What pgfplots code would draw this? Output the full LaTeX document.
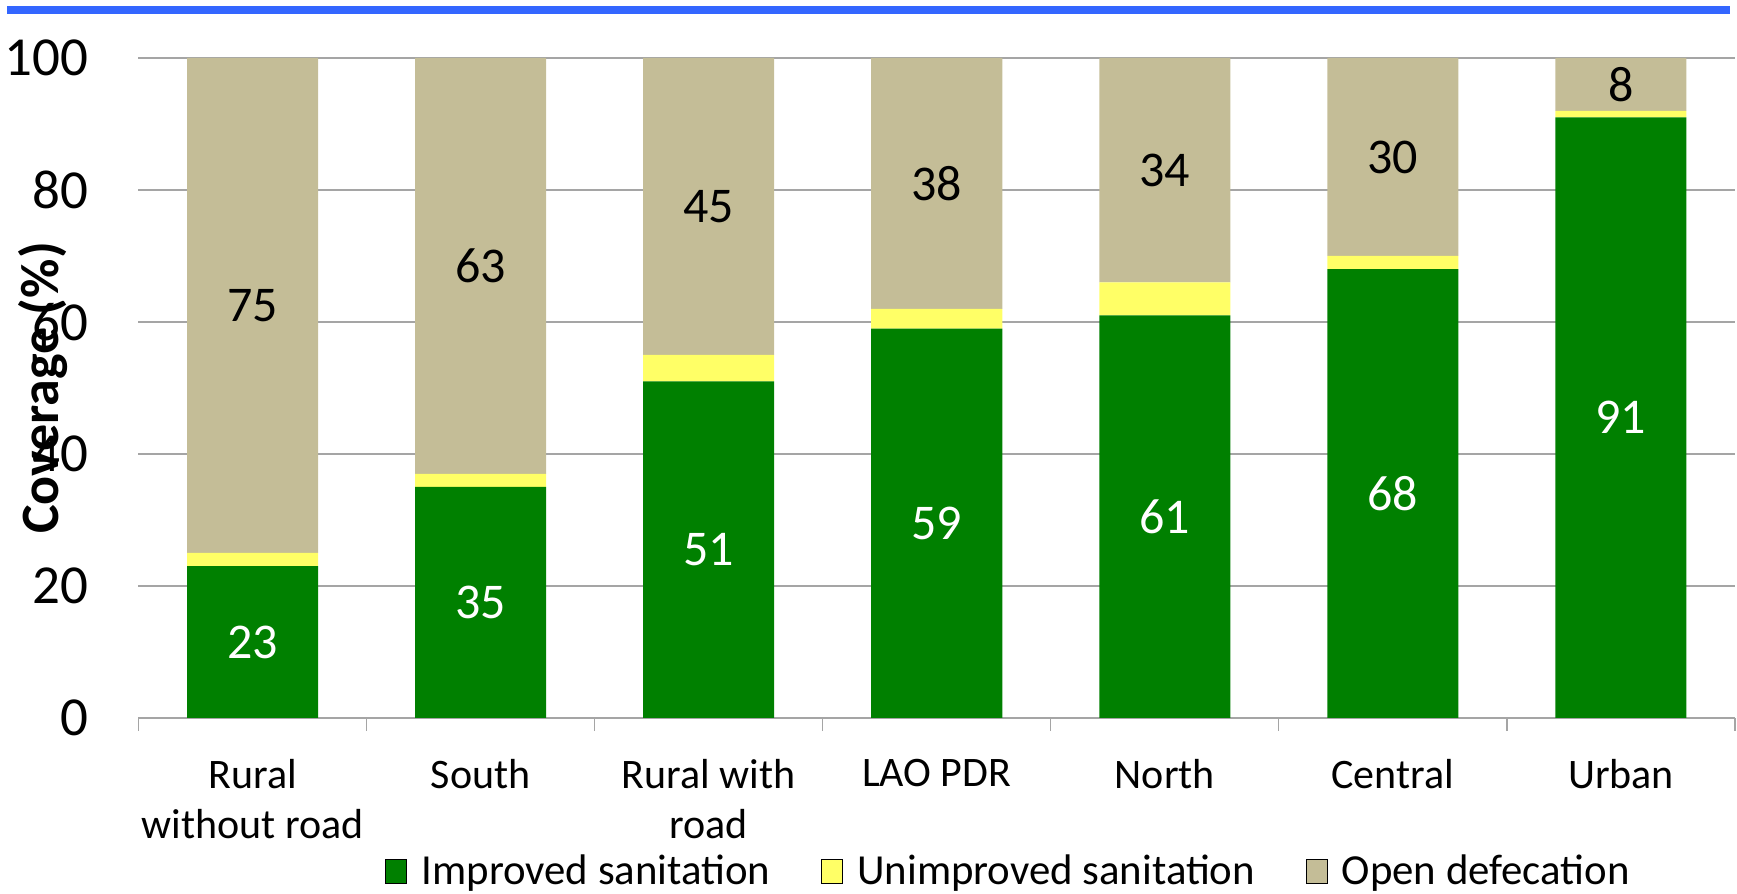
\documentclass[border=0pt]{standalone}
\usepackage{pgfplots}
\pgfplotsset{compat=1.18}
\usepackage{pgfplotstable}
\usepackage{fontspec}
\setmainfont{Carlito}

\definecolor{improved}{RGB}{0,128,0}
\definecolor{unimproved}{RGB}{255,255,102}
\definecolor{opendef}{RGB}{196,189,151}
\definecolor{topbar}{RGB}{51,102,255}
\definecolor{gridgray}{RGB}{165,165,165}

% Sanitation coverage (%) by area
\pgfplotstableread{
x imp unimp open
0 23 2 75
1 35 2 63
2 51 4 45
3 59 3 38
4 61 5 34
5 68 2 30
6 91 1 8
}\sanitation

% value label inside its own stacked segment
\pgfplotsset{
  mid label/.style={
    point meta=explicit symbolic,
    nodes near coords={\pgfplotspointmeta},
    every node near coord/.append style={
      anchor=center, inner sep=0pt,
      font=\fontsize{25}{30}\selectfont, text=#1}
  }
}

\begin{document}
\begin{tikzpicture}
\useasboundingbox (-69.25pt,-88pt) rectangle (799.25pt,359pt);
\fill[topbar] (-65.75pt,352pt) rectangle (795.75pt,356pt);
\begin{axis}[
  scale only axis, width=798.25pt, height=330pt,
  ybar stacked, bar width=65.5pt,
  xmin=-0.5, xmax=6.5, ymin=0, ymax=100,
  xtick={0,...,6},
  xticklabels={{Rural\\without road},South,{Rural with\\road},LAO PDR,North,Central,Urban},
  minor xtick={-0.5,0.5,...,6.5},
  ytick={0,20,...,100},
  tick align=outside,
  major tick length=0pt, minor tick length=6.5pt,
  minor tick style={gridgray, line width=0.6pt},
  axis x line*=bottom, axis y line*=left,
  x axis line style={gridgray, line width=0.8pt, -},
  y axis line style={draw=none},
  ymajorgrids, grid style={gridgray, line width=0.6pt},
  /pgf/number format/assume math mode=true,
  yticklabel style={font=\fontsize{27.5}{33}\selectfont, inner sep=0pt, xshift=-25pt},
  xticklabel style={font=\fontsize{21}{25}\selectfont, align=center, inner sep=0pt, yshift=-20.5pt},
  ylabel={Coverage (\%)},
  ylabel style={at={(axis description cs:-0.0601,0.5)}, anchor=center,
    font=\fontsize{27}{32}\selectfont\bfseries},
  legend style={at={(0.5456,-0.232)}, anchor=center, draw=none, fill=none,
    legend columns=3, font=\fontsize{21.4}{25}\selectfont,
    /tikz/every odd column/.append style={column sep=5.2pt},
    /tikz/every even column/.append style={column sep=23.3pt}},
  legend image code/.code={\draw[#1] (0pt,-6pt) rectangle (10.5pt,6pt);},
]
\addplot[fill=improved, draw=none, mid label=white]
  table[x=x, y=imp, meta=imp] {\sanitation};
\addplot[fill=unimproved, draw=none]
  table[x=x, y=unimp] {\sanitation};
\addplot[fill=opendef, draw=none, mid label=black]
  table[x=x, y=open, meta=open] {\sanitation};
\legend{Improved sanitation, Unimproved sanitation, Open defecation}
\end{axis}
\end{tikzpicture}
\end{document}
